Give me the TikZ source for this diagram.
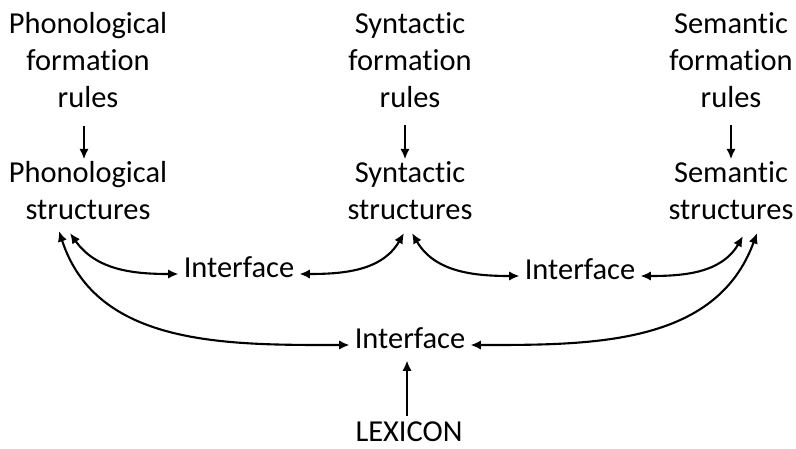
\documentclass[tikz,border=0pt]{standalone}
\usepackage{fontspec}
\setmainfont[Ligatures={NoCommon,NoDiscretionary},RawFeature={-liga;-dlig;-clig}]{Carlito}
\usetikzlibrary{arrows.meta,calc}
\begin{document}
\begin{tikzpicture}[x=0.03cm,y=-0.03cm,
  lbl/.style={font=\fontsize{26pt}{31.5pt}\selectfont, align=center, inner sep=0pt, anchor=north},
  iface/.style={font=\fontsize{26pt}{31.5pt}\selectfont, inner sep=0.15cm, text height=0.21cm, text depth=-0.21cm},
  conn/.style={line width=1.8pt, -{Latex[length=9pt,width=8pt]}},
  bconn/.style={line width=1.8pt, {Latex[length=9pt,width=8pt]}-{Latex[length=9pt,width=8pt]}}
]
\useasboundingbox (0,0) rectangle (796,448);
% formation rules
\node[lbl] (pfr) at (88,12) {Phonological\\formation\\rules};
\node[lbl] (sfr) at (410,12) {Syntactic\\formation\\rules};
\node[lbl] (mfr) at (731,12) {Semantic\\formation\\rules};
% structures
\node[lbl] (ps) at (88,161) {Phonological\\structures};
\node[lbl] (ss) at (410,161) {Syntactic\\structures};
\node[lbl] (ms) at (731,161) {Semantic\\structures};
% interfaces
\node[iface] (i1) at (239,274) {Interface};
\node[iface] (i2) at (580,276) {Interface};
\node[iface] (i3) at (410,345) {Interface};
\node[font=\fontsize{26pt}{31.5pt}\selectfont, inner sep=0pt, anchor=base] (lex) at (409,441) {LEXICON};
% endpoints under structures
\coordinate (p1) at (70,233);
\coordinate (p2) at (59,231);
\coordinate (s1) at (404,233);
\coordinate (s2) at (412,233);
\coordinate (m1) at (743,236);
\coordinate (m2) at (757,233);
% vertical arrows
\draw[conn, shorten <=0.54cm, shorten >=0.05cm] ([xshift=-0.12cm]pfr.south) -- ([xshift=-0.12cm]ps.north);
\draw[conn, shorten <=0.54cm, shorten >=0.05cm] ([xshift=-0.15cm]sfr.south) -- ([xshift=-0.15cm]ss.north);
\draw[conn, shorten <=0.54cm, shorten >=0.05cm] (mfr.south) -- (ms.north);
\draw[conn, shorten <=0.15cm, shorten >=0.2cm] ([xshift=-0.06cm]lex.north) -- ([xshift=-0.09cm]i3.south);
% curved double arrows
\draw[bconn] (p1) to[out=-55, in=180] (i1.west);
\draw[bconn] (p2) to[out=-72, in=180] (i3.west);
\draw[bconn] (s1) to[out=-120, in=0] (i1.east);
\draw[bconn] (s2) to[out=-60, in=180] (i2.west);
\draw[bconn] (m1) to[out=-120, in=0] (i2.east);
\draw[bconn] (m2) to[out=-110, in=0] (i3.east);
\end{tikzpicture}
\end{document}
